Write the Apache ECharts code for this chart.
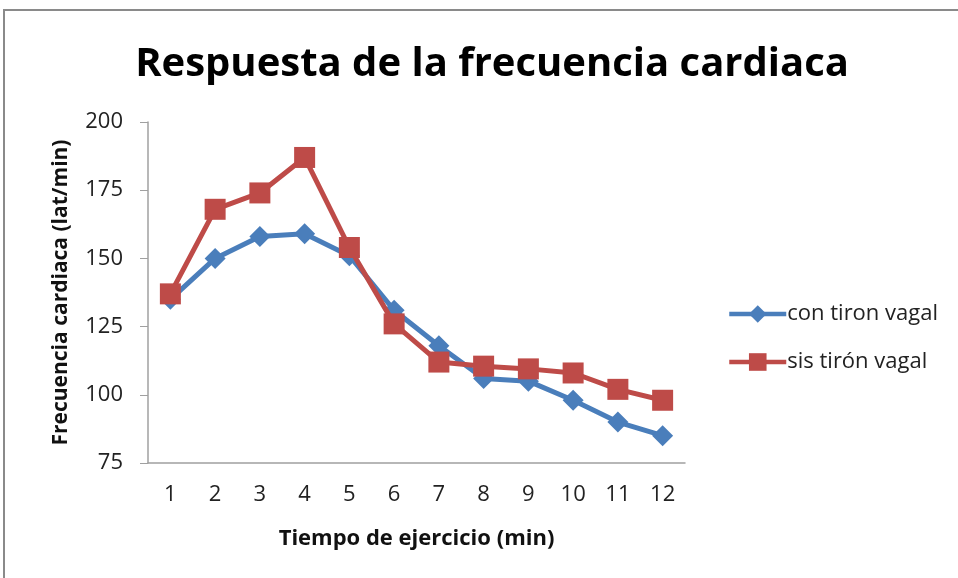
<!DOCTYPE html>
<html>
<head>
<meta charset="utf-8">
<script src="https://cdn.jsdelivr.net/npm/echarts@6/dist/echarts.min.js"></script>
<style>
  html, body { margin: 0; padding: 0; background: #fff; }
  #main { width: 958px; height: 578px; }
</style>
</head>
<body>
<div id="main"></div>
<script>
// minutos de ejercicio
var minutos = ['1', '2', '3', '4', '5', '6', '7', '8', '9', '10', '11', '12']
// frecuencia cardiaca (lat/min)
var conTiron = [135, 150, 158, 159, 151, 131, 118, 106, 105, 98, 90, 85]
var sinTiron = [137, 168, 174, 187, 154, 126, 112, 110.5, 109.5, 108, 102, 98]
var seriesNames = ['con tiron vagal', 'sis tirón vagal']

var FONT = "'Open Sans', 'Noto Sans', sans-serif"
var BLUE = '#4a7ebb'
var RED = '#be4b48'

var myChart = echarts.init(document.getElementById('main'))

var option = {
  backgroundColor: '#fff',
  animation: false,
  title: {
    text: 'Respuesta de la frecuencia cardiaca',
    left: 487,
    top: 40,
    textAlign: 'center',
    textStyle: {
      fontFamily: FONT,
      fontWeight: 'bold',
      fontSize: 40,
      color: '#000'
    }
  },
  graphic: [
    {
      type: 'rect',
      shape: { x: 4, y: 10, width: 1100, height: 700 },
      style: { fill: null, stroke: '#8a8a8a', lineWidth: 2 },
      silent: true
    }
  ],
  legend: {
    orient: 'vertical',
    left: 722,
    top: 298,
    itemGap: 26,
    itemWidth: 57,
    itemHeight: 22,
    lineStyle: { width: 4.5 },
    textStyle: { fontFamily: FONT, fontSize: 22, color: '#222', padding: [0, 0, 0, -4] },
    data: seriesNames
  },
  grid: {
    left: 148,
    right: 273,
    top: 122,
    bottom: 115
  },
  xAxis: {
    type: 'category',
    data: minutos,
    boundaryGap: true,
    name: 'Tiempo de ejercicio (min)',
    nameLocation: 'middle',
    nameGap: 65,
    nameTextStyle: { fontFamily: FONT, fontWeight: 'bold', fontSize: 22, color: '#111' },
    axisLine: { lineStyle: { color: '#a0a0a0', width: 1.5 } },
    axisTick: { show: false },
    axisLabel: { fontFamily: FONT, fontSize: 22, color: '#222', margin: 21 },
    splitLine: { show: false }
  },
  yAxis: {
    type: 'value',
    min: 75,
    max: 200,
    interval: 25,
    name: 'Frecuencia cardiaca (lat/min)',
    nameLocation: 'middle',
    nameGap: 76,
    nameTextStyle: { fontFamily: FONT, fontWeight: 'bold', fontSize: 21, color: '#111' },
    axisLine: { show: true, lineStyle: { color: '#a0a0a0', width: 1.5 } },
    axisTick: { show: true, inside: false, length: 8, lineStyle: { color: '#a0a0a0' } },
    axisLabel: { fontFamily: FONT, fontSize: 22, color: '#222', margin: 25 },
    splitLine: { show: false }
  },
  series: [
    {
      name: seriesNames[0],
      type: 'line',
      data: conTiron,
      symbol: 'diamond',
      symbolSize: 21,
      lineStyle: { color: BLUE, width: 5 },
      itemStyle: { color: BLUE },
      z: 2
    },
    {
      name: seriesNames[1],
      type: 'line',
      data: sinTiron,
      symbol: 'rect',
      symbolSize: 21,
      lineStyle: { color: RED, width: 5 },
      itemStyle: { color: RED },
      z: 3
    }
  ]
}

option && myChart.setOption(option)
</script>
</body>
</html>
